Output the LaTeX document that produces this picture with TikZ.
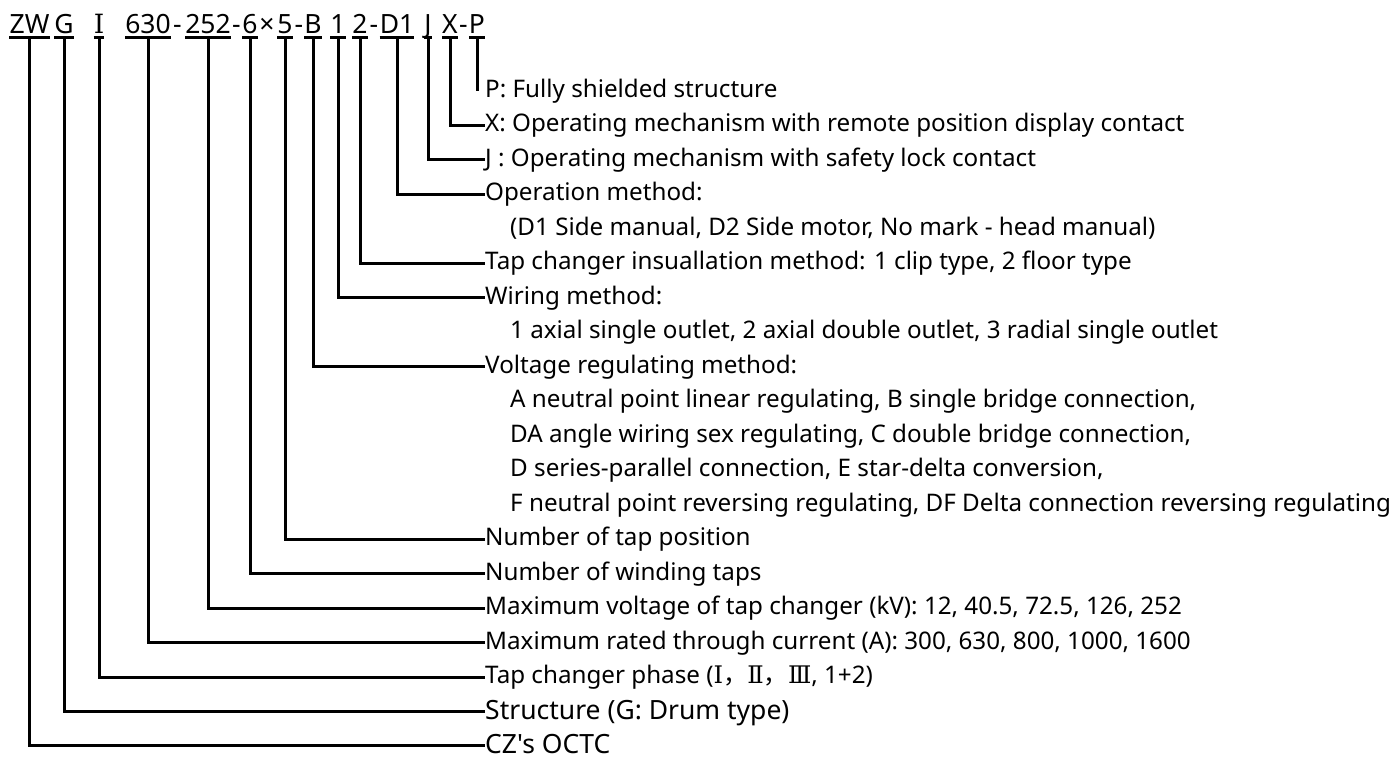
\documentclass[tikz,border=0pt]{standalone}
\usepackage{fontspec}
\setmainfont{Noto Sans}[Ligatures=TeXOff]
\newfontfamily\cjkfont{Noto Sans CJK SC}
\newfontfamily\romfont{DejaVu Serif}
\usetikzlibrary{calc}

\tikzset{
  code/.style={font=\fontsize{26.5}{30}\selectfont,inner sep=0pt,anchor=base},
  desc/.style={font=\fontsize{24.2}{28}\selectfont,inner sep=0pt,anchor=west,text height=18pt,text depth=5pt},
  bigdesc/.style={font=\fontsize{26.5}{30}\selectfont,inner sep=0pt,anchor=west,text height=16pt,text depth=0pt},
  lead/.style={line width=3pt},
}

\begin{document}
\begin{tikzpicture}[x=1pt,y=-1pt]
\useasboundingbox (0,0) rectangle (1397,758);

% type code, one node per field
\foreach \name/\x/\txt in {zw/29.5/ZW, g/64/G, ph/99/{\romfont Ⅰ}, cur/148/630, volt/208/252,
    wt/250/6, pos/285/5, reg/313/B, wir/338/1, ins/360/2, op/397/D1, lk/428/J, rem/450/X, shd/477/P}
  \node[code] (\name) at (\x,33) {\txt};
\foreach \x/\txt [count=\k] in {177.5/-, 236.5/-, 267/×, 299/-, 374/-, 463.5/-}
  \node[code] (sep\k) at (\x,33) {\txt};
\foreach \name in {zw,g,ph,cur,volt,wt,pos,reg,wir,ins,op,lk,rem,shd}
  \draw[lead] ($(\name.base west)+(0,4)$) -- ($(\name.base east)+(0,4)$);

% meanings
\node[desc] (r0) at (485,90.5) {P: Fully shielded structure};
\node[desc] (r1) at (485,125) {X: Operating mechanism with remote position display contact};
\node[desc] (r2) at (485,159.5) {J : Operating mechanism with safety lock contact};
\node[desc] (r3) at (485,194) {Operation method:};
\node[desc] (r4) at (510,228.5) {(D1 Side manual, D2 Side motor, No mark - head manual)};
\node[desc] (r5) at (485,263) {Tap changer insuallation method: 1 clip type, 2 floor type};
\node[desc] (r6) at (485,297.5) {Wiring method:};
\node[desc] (r7) at (510,332) {1 axial single outlet, 2 axial double outlet, 3 radial single outlet};
\node[desc] (r8) at (485,366.5) {Voltage regulating method:};
\node[desc] (r9) at (510,401) {A neutral point linear regulating, B single bridge connection,};
\node[desc] (r10) at (510,435.5) {DA angle wiring sex regulating, C double bridge connection,};
\node[desc] (r11) at (510,470) {D series-parallel connection, E star-delta conversion,};
\node[desc] (r12) at (510,504.5) {F neutral point reversing regulating, DF Delta connection reversing regulating};
\node[desc] (r13) at (485,539) {Number of tap position};
\node[desc] (r14) at (485,573.5) {Number of winding taps};
\node[desc] (r15) at (485,608) {Maximum voltage of tap changer (kV): 12, 40.5, 72.5, 126, 252};
\node[desc] (r16) at (485,642.5) {Maximum rated through current (A): 300, 630, 800, 1000, 1600};
\node[desc] (r17) at (485,677) {Tap changer phase ({\romfont Ⅰ}{\cjkfont ，}{\romfont Ⅱ}{\cjkfont ，}{\romfont Ⅲ}, 1+2)};
\node[bigdesc] (r18) at (485,711) {Structure (G: Drum type)};
\node[bigdesc] (r19) at (485,745) {CZ's OCTC};

% leaders
\draw[lead] ($(shd.base)+(0,4)$) -- (shd.base |- r0.west);
\foreach \name/\row in {rem/1, lk/2, op/3, ins/5, wir/6, reg/8, pos/13, wt/14, volt/15, cur/16, ph/17, g/18, zw/19}
  \draw[lead] ($(\name.base)+(0,4)$) |- (r\row.west);
\end{tikzpicture}
\end{document}
